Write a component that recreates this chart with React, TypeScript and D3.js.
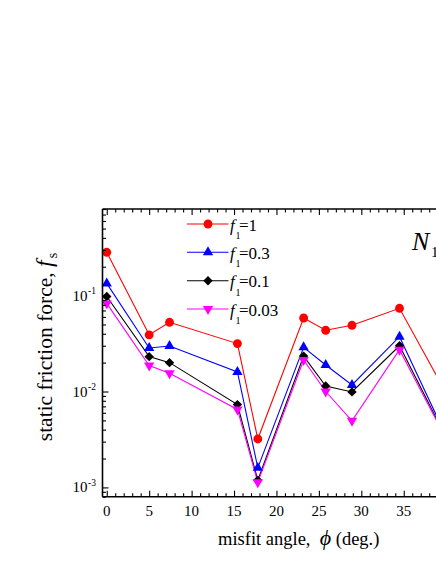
import React, { useRef, useEffect } from "react";
import * as d3 from "d3";

// misfit angles (deg.) and static friction force for each f1
const angles = [0, 5, 7.4, 15.4, 17.8, 23.2, 25.8, 28.9, 34.5, 40];
const fsF1_1 = [0.283, 0.039, 0.0527, 0.0316, 0.0032, 0.0584, 0.0435, 0.049, 0.0737, 0.0096];
const fsF1_03 = [0.134, 0.0284, 0.0298, 0.016, 0.0016, 0.0289, 0.0189, 0.0117, 0.0373, 0.0034];
const fsF1_01 = [0.098, 0.0231, 0.02, 0.0073, 0.00119, 0.0234, 0.0114, 0.0099, 0.03, 0.0033];
const fsF1_003 = [0.083, 0.0187, 0.0155, 0.0065, 0.00113, 0.0213, 0.01, 0.00495, 0.0273, 0.0032];

const seriesLabels = ["1", "0.3", "0.1", "0.03"];
const seriesColors = ["#ff0000", "#0000ff", "#000000", "#ff00ff"];
const seriesMarkers = ["circle", "up", "diamond", "down"];
const seriesValues = [fsF1_1, fsF1_03, fsF1_01, fsF1_003];

const xMajor = [0, 5, 10, 15, 20, 25, 30, 35, 40, 45];
const xLabels = [0, 5, 10, 15, 20, 25, 30, 35];
const yMajor = [1e-3, 1e-2, 1e-1];
const yMajorLabels = ["-3", "-2", "-1"];

const FONT = "Liberation Serif";

function Marker({ kind, cx, cy, color }) {
  let d;
  let rot = 0;
  if (kind === "circle") d = d3.symbol(d3.symbolCircle, 62)();
  else if (kind === "up") d = d3.symbol(d3.symbolTriangle, 46)();
  else if (kind === "down") {
    d = d3.symbol(d3.symbolTriangle, 46)();
    rot = 180;
  } else {
    d = d3.symbol(d3.symbolSquare, 44)();
    rot = 45;
  }
  return (
    <path
      d={d}
      fill={color}
      transform={`translate(${cx},${cy}) rotate(${rot})`}
    />
  );
}

export default function App() {
  const width = 436;
  const height = 564;
  const left = 102.5;
  const top = 209;
  const bottom = 496.7;
  const axisRef = useRef(null);

  const x = d3.scaleLinear().domain([-0.5, 45]).range([left, left + 45.5 * 8.486]);
  const y = d3.scaleLog().domain([0.0008, 0.8]).range([bottom, top]);

  const line = d3
    .line<number>()
    .x((_, i) => x(angles[i]))
    .y((v) => y(v));

  useEffect(() => {
    const g = d3.select(axisRef.current);
    g.selectAll("*").remove();
    const xMinor = d3.range(0, 46, 1).filter((v) => v % 5 !== 0);
    const yMinor = y.ticks().filter((v) => !yMajor.some((m) => Math.abs(m - v) / m < 1e-6));

    const add = (axis, tr) => {
      const a = g.append("g").attr("transform", tr).call(axis);
      a.select(".domain").remove();
      a.selectAll("text").remove();
      a.selectAll("line").attr("stroke", "#000").attr("stroke-width", 1.1);
    };
    add(d3.axisBottom(x).tickValues(xMajor).tickSize(-6), `translate(0,${bottom})`);
    add(d3.axisBottom(x).tickValues(xMinor).tickSize(-3.5), `translate(0,${bottom})`);
    add(d3.axisTop(x).tickValues(xMajor).tickSize(-6), `translate(0,${top})`);
    add(d3.axisTop(x).tickValues(xMinor).tickSize(-3.5), `translate(0,${top})`);
    add(d3.axisLeft(y).tickValues(yMajor).tickSize(-6), `translate(${left},0)`);
    add(d3.axisLeft(y).tickValues(yMinor).tickSize(-3.5), `translate(${left},0)`);
  }, []);

  const legendY = [224, 252.3, 280.7, 309];

  return (
    <svg
      width={width}
      height={height}
      style={{ position: "absolute", left: 0, top: 0, background: "#fff" }}
    >
      {/* data lines */}
      {seriesValues.map((vals, s) => (
        <path
          key={`l${s}`}
          d={line(vals)}
          fill="none"
          stroke={seriesColors[s]}
          strokeWidth={1.1}
        />
      ))}
      {seriesValues.map((vals, s) =>
        vals.map((v, i) => (
          <Marker
            key={`m${s}-${i}`}
            kind={seriesMarkers[s]}
            cx={x(angles[i])}
            cy={y(v)}
            color={seriesColors[s]}
          />
        ))
      )}

      {/* frame */}
      <g stroke="#000" strokeWidth={1.6}>
        <line x1={left} x2={left} y1={top} y2={bottom} />
        <line x1={left} x2={width} y1={top} y2={top} />
        <line x1={left} x2={width} y1={bottom} y2={bottom} />
      </g>
      <g ref={axisRef}></g>

      <g fontFamily={FONT} fill="#000">
        {/* x tick labels */}
        {xLabels.map((v) => (
          <text key={v} x={x(v)} y={516} textAnchor="middle" fontSize={15} fontFamily={FONT}>
            {v}
          </text>
        ))}
        {/* y tick labels */}
        {yMajor.map((v, i) => (
          <g key={v}>
            <text x={87.5} y={y(v) + 5} textAnchor="end" fontSize={15} fontFamily={FONT}>
              10
            </text>
            <text x={88} y={y(v) - 1.5} fontSize={9.5} fontFamily={FONT}>
              {yMajorLabels[i]}
            </text>
          </g>
        ))}

        {/* axis titles */}
        <text x={218} y={545} fontSize={18.5} fontFamily={FONT}>
          misfit angle,{"\u00a0\u00a0"}
          <tspan fontStyle="italic" fontSize={22}>
            ϕ
          </tspan>
          {" (deg.)"}
        </text>
        <text
          transform="translate(52,347) rotate(-90)"
          textAnchor="middle"
          fontSize={21.5}
          fontFamily={FONT}
        >
          {"static friction force, "}
          <tspan fontStyle="italic" fontSize={24}>
            f
          </tspan>
          <tspan fontSize={14} dx={2} dy={5}>
            s
          </tspan>
        </text>

        {/* legend */}
        {seriesLabels.map((lab, s) => (
          <g key={lab}>
            <line
              x1={187}
              x2={228.5}
              y1={legendY[s]}
              y2={legendY[s]}
              stroke={seriesColors[s]}
              strokeWidth={1.1}
            />
            <Marker kind={seriesMarkers[s]} cx={208} cy={legendY[s]} color={seriesColors[s]} />
            <text x={230} y={legendY[s] + 6.5} fontSize={17} fontStyle="italic" fontFamily={FONT}>
              f
            </text>
            <text x={235.5} y={legendY[s] + 15} fontSize={10} fontFamily={FONT}>
              1
            </text>
            <text x={239} y={legendY[s] + 6.5} fontSize={17} fontFamily={FONT}>
              ={lab}
            </text>
          </g>
        ))}

        {/* panel label */}
        <text x={412} y={250} fontSize={26} fontStyle="italic" fontFamily={FONT}>
          N
        </text>
        <text x={431} y={257} fontSize={15} fontFamily={FONT}>
          1
        </text>
      </g>
    </svg>
  );
}
